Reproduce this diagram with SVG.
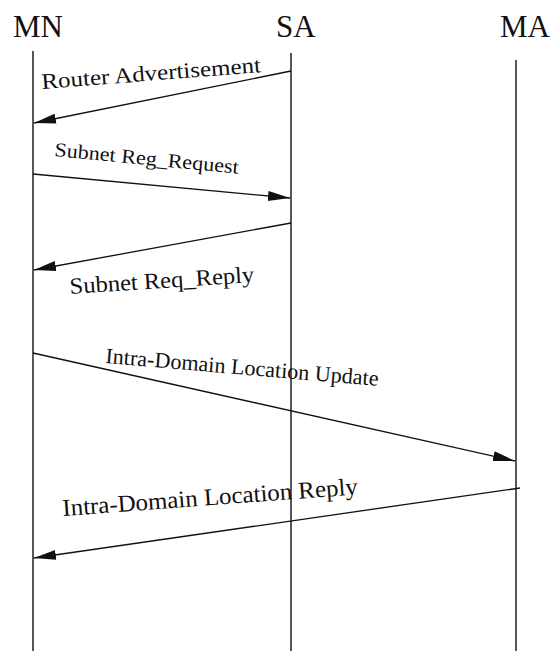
<svg xmlns="http://www.w3.org/2000/svg" width="551" height="651" viewBox="0 0 551 651">
  <style>
    .name { font-family: "Liberation Serif", "Times New Roman", serif; font-size: 31px; fill: #111; }
    .life { stroke: #111; stroke-width: 1.4; fill: none; }
    .msg { stroke: #111; stroke-width: 1.3; fill: none; marker-end: url(#ah); }
    .lbl { font-family: "Liberation Serif", "Times New Roman", serif; fill: #111; }
  </style>
  <defs>
    <marker id="ah" markerWidth="24" markerHeight="12" refX="22" refY="5" orient="auto" markerUnits="userSpaceOnUse">
      <path d="M0,0 L22,5 L0,10 z" fill="#111"/>
    </marker>
  </defs>
  <rect width="551" height="651" fill="#fff"/>

  <g id="MN">
    <text class="name" x="13" y="37">MN</text>
    <line class="life" x1="33" y1="51" x2="33" y2="651"/>
  </g>
  <g id="SA">
    <text class="name" x="276" y="37">SA</text>
    <line class="life" x1="291" y1="53" x2="291" y2="651"/>
  </g>
  <g id="MA">
    <text class="name" x="500" y="37">MA</text>
    <line class="life" x1="516" y1="60" x2="516" y2="651"/>
  </g>

  <g id="connectors">
    <g id="msg-router-adv">
      <line class="msg" x1="291" y1="71" x2="34" y2="123"/>
      <text class="lbl" font-size="22" x="42" y="89" textLength="220" lengthAdjust="spacingAndGlyphs" transform="rotate(-4.4 42 89)">Router Advertisement</text>
    </g>
    <g id="msg-subnet-request">
      <line class="msg" x1="33" y1="174" x2="290" y2="198"/>
      <text class="lbl" font-size="20" x="54" y="156" textLength="185" lengthAdjust="spacingAndGlyphs" transform="rotate(5.5 54 156)">Subnet Reg_Request</text>
    </g>
    <g id="msg-subnet-reply">
      <line class="msg" x1="291" y1="223" x2="34" y2="270"/>
      <text class="lbl" font-size="23" x="70" y="294" textLength="185" lengthAdjust="spacingAndGlyphs" transform="rotate(-3.7 70 294)">Subnet Req_Reply</text>
    </g>
    <g id="msg-location-update">
      <line class="msg" x1="33" y1="353" x2="515" y2="461"/>
      <text class="lbl" font-size="22" x="105" y="363" textLength="274" lengthAdjust="spacingAndGlyphs" transform="rotate(4.8 105 363)">Intra-Domain Location Update</text>
    </g>
    <g id="msg-location-reply">
      <line class="msg" x1="520" y1="488" x2="34" y2="558"/>
      <text class="lbl" font-size="24" x="63" y="516" textLength="296" lengthAdjust="spacingAndGlyphs" transform="rotate(-4.2 63 516)">Intra-Domain Location Reply</text>
    </g>
  </g>
</svg>
